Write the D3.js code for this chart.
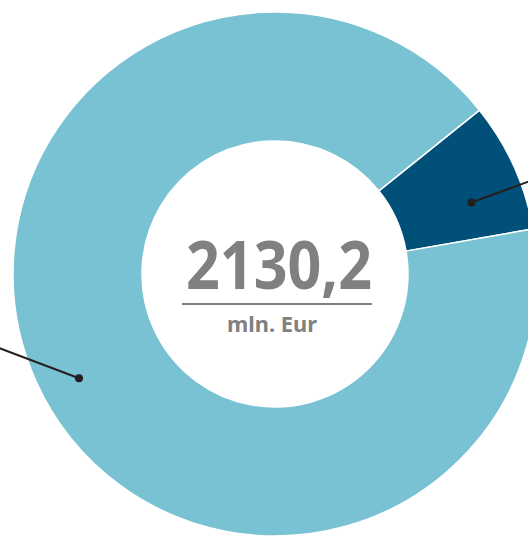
<!DOCTYPE html>
<html>
<head>
<meta charset="utf-8">
<script src="https://cdn.jsdelivr.net/npm/d3@7"></script>
<style>
  html, body { margin: 0; padding: 0; background: #fff; overflow: hidden; }
  svg { display: block; }
</style>
</head>
<body>
<svg id="donut"></svg>
<script>
// dati
const categorie = ["quota_a", "quota_b"];
const valori = [170.4, 1959.8];
const colori = ["#00507a", "#78c2d3"];
const totale_testo = "2130,2";
const unita_testo = "mln. Eur";

// linee guida verso le etichette (fuori dal riquadro)
const guida_angolo = [70, 242];      // gradi, da ore 12 in senso orario
const guida_raggio = [209, 222];
const guida_fine = [[60, -22], [-82, -31]];

const larghezza = 528, altura = 536;
const cx = 275, cy = 274;
const raggio_esterno = 262, raggio_interno = 133;

const svg = d3.select("#donut").attr("width", larghezza).attr("height", altura);
const g = svg.append("g").attr("transform", `translate(${cx},${cy})`);

const pie = d3.pie()
  .sort(null)
  .value(d => d)
  .startAngle(51.3 * Math.PI / 180)
  .endAngle(51.3 * Math.PI / 180 + 2 * Math.PI);

const arco = d3.arc().innerRadius(raggio_interno).outerRadius(raggio_esterno);

g.selectAll(".fetta")
  .data(pie(valori))
  .enter()
  .append("path")
  .attr("class", "fetta")
  .attr("d", arco)
  .attr("fill", (d, i) => colori[i])
  .attr("stroke", "#fff")
  .attr("stroke-width", 1.5);

categorie.forEach((c, i) => {
  const a = guida_angolo[i] * Math.PI / 180;
  const x = guida_raggio[i] * Math.sin(a);
  const y = -guida_raggio[i] * Math.cos(a);
  g.append("line")
    .attr("x1", x).attr("y1", y)
    .attr("x2", x + guida_fine[i][0]).attr("y2", y + guida_fine[i][1])
    .attr("stroke", "#231f20")
    .attr("stroke-width", 2);
  g.append("circle")
    .attr("cx", x).attr("cy", y)
    .attr("r", 4)
    .attr("fill", "#231f20");
});

g.append("text")
  .attr("x", 4).attr("y", 15)
  .attr("text-anchor", "middle")
  .attr("font-family", "'Noto Sans', 'Open Sans', sans-serif")
  .attr("font-weight", "bold")
  .attr("font-size", 66)
  .attr("fill", "#808080")
  .attr("textLength", 186)
  .attr("lengthAdjust", "spacingAndGlyphs")
  .text(totale_testo);

g.append("line")
  .attr("x1", -93).attr("x2", 97)
  .attr("y1", 30).attr("y2", 30)
  .attr("stroke", "#808080")
  .attr("stroke-width", 2);

g.append("text")
  .attr("x", -3).attr("y", 58)
  .attr("text-anchor", "middle")
  .attr("font-family", "'Noto Sans', 'Open Sans', sans-serif")
  .attr("font-weight", "bold")
  .attr("font-size", 22)
  .attr("fill", "#808080")
  .attr("textLength", 90)
  .attr("lengthAdjust", "spacingAndGlyphs")
  .text(unita_testo);
</script>
</body>
</html>
